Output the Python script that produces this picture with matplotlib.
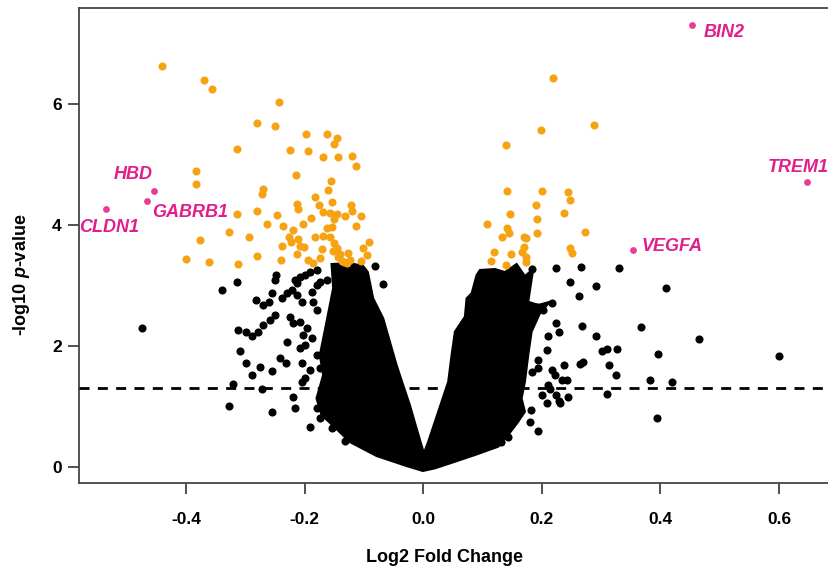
import matplotlib
matplotlib.use("Agg")
import matplotlib.pyplot as plt

plt.rcParams['font.family'] = ['Liberation Sans', 'DejaVu Sans']
plt.rcParams['font.weight'] = 'bold'
plt.rcParams['mathtext.fontset'] = 'custom'
plt.rcParams['mathtext.it'] = 'Liberation Sans:italic:bold'
plt.rcParams['mathtext.rm'] = 'Liberation Sans:bold'

# significant genes (orange)
sig_x = [-0.4409, -0.3705, -0.3558, -0.2444, -0.2810, -0.2498, -0.3143, -0.1980, -0.1625, -0.1460,
         -0.1506, -0.2253, -0.1941, -0.1688, -0.1443, -0.1212, -0.1131, -0.3835, -0.3835, -0.2152,
         -0.1561, -0.1603, -0.2700, -0.2726, -0.1823, -0.2130, -0.2123, -0.1760, -0.1544, -0.1224,
         -0.1202, -0.3151, -0.2815, -0.2469, -0.1693, -0.1571, -0.1452, -0.1322, -0.1902, -0.1511,
         -0.1046, -0.3274, -0.2937, -0.3777, -0.2630, -0.2360, -0.2039, -0.2203, -0.1139, -0.1620,
         -0.1539, -0.1578, -0.2265, -0.2236, -0.2113, -0.2076, -0.2388, -0.1823, -0.1688, -0.2017,
         -0.2140, -0.1718, -0.1506, -0.1465, -0.1519, -0.1409, -0.1438, -0.1381, -0.1278, -0.0920,
         -0.1016, -0.0959, -0.1050, -0.2815, -0.3131, -0.4003, -0.3617, -0.2405, -0.1954, -0.1870,
         -0.1743, -0.1342, -0.1296, -0.1241,
         0.2191, 0.2874, 0.1980, 0.1387, 0.1409, 0.2003, 0.2435, 0.2478, 0.1904, 0.1460,
         0.2371, 0.1075, 0.1912, 0.1409, 0.1448, 0.1333, 0.1921, 0.2726, 0.1693, 0.1730,
         0.1700, 0.1668, 0.1735, 0.1737, 0.2476, 0.2515, 0.1195, 0.1473, 0.1144, 0.1396]
sig_y = [6.635, 6.404, 6.250, 6.040, 5.687, 5.643, 5.262, 5.510, 5.502, 5.443,
         5.348, 5.241, 5.224, 5.122, 5.130, 5.137, 4.979, 4.893, 4.683, 4.822,
         4.733, 4.579, 4.596, 4.521, 4.468, 4.343, 4.268, 4.328, 4.377, 4.334,
         4.232, 4.179, 4.237, 4.169, 4.218, 4.207, 4.179, 4.144, 4.119, 4.099,
         4.152, 3.893, 3.810, 3.752, 4.022, 3.992, 4.022, 3.917, 3.989, 3.946,
         3.972, 3.810, 3.802, 3.714, 3.764, 3.661, 3.648, 3.810, 3.813, 3.641,
         3.524, 3.611, 3.697, 3.620, 3.578, 3.520, 3.463, 3.405, 3.537, 3.714,
         3.615, 3.504, 3.413, 3.487, 3.355, 3.443, 3.396, 3.418, 3.421, 3.366,
         3.449, 3.393, 3.366, 3.421,
         6.427, 5.654, 5.572, 5.319, 4.571, 4.563, 4.546, 4.417, 4.331, 4.177,
         4.199, 4.017, 4.108, 3.950, 3.864, 3.797, 3.873, 3.881, 3.807, 3.788,
         3.633, 3.553, 3.476, 3.393, 3.615, 3.545, 3.548, 3.527, 3.413, 3.347]

# highlighted genes
gene_names = ['CLDN1', 'HBD', 'GABRB1', 'VEGFA', 'BIN2', 'TREM1']
gene_x = [-0.5347, -0.4544, -0.4655, 0.3531, 0.4537, 0.6473]
gene_y = [4.265, 4.563, 4.397, 3.582, 7.304, 4.716]

# non-significant genes: scattered ones that stand apart from the dense core
ns_x = [-0.4739, -0.3401, -0.3148, -0.2827, -0.3126, -0.2996, -0.2889, -0.3097, -0.2987, -0.2898,
        -0.2759, -0.2549, -0.2422, -0.2321, -0.3219, -0.2717, -0.3279, -0.2562, -0.2206, -0.2169,
        -0.1916, -0.1549, -0.1325, -0.2704, -0.2608, -0.2562, -0.2506, -0.2478, -0.2393, -0.2309,
        -0.2224, -0.2140, -0.2084, -0.2000, -0.1916, -0.1803, -0.2169, -0.1803, -0.1747, -0.1634,
        -0.2140, -0.2056, -0.1887, -0.1860, -0.1803, -0.2253, -0.2197, -0.2506, -0.2591, -0.2704,
        -0.2788, -0.2084, -0.2029, -0.1971, -0.1887, -0.2084, -0.2000, -0.2309, -0.2056, -0.1803,
        -0.1747, -0.1916, -0.2056, -0.2000, -0.1803, -0.1747, -0.1634, -0.1691, -0.0819, -0.0678,
        0.2233, 0.2653, 0.3308, 0.1831, 0.2476, 0.2908, 0.4090, 0.2628, 0.2675, 0.2920,
        0.3008, 0.3092, 0.3261, 0.3136, 0.3244, 0.3092, 0.3666, 0.3963, 0.3831, 0.4199,
        0.3941, 0.4645, 0.5995, 0.2650, 0.2697, 0.2371, 0.2417, 0.2444, 0.2304, 0.2231,
        0.2282, 0.2101, 0.2093, 0.1938, 0.1932, 0.2164, 0.2022, 0.1911, 0.1809, 0.1938,
        0.2079, 0.2143, 0.2236, 0.1797, 0.1431, 0.1308, 0.2164, 0.2219, 0.2332, 0.1826,
        0.2106, 0.1995, 0.2292]
ns_y = [2.291, 2.933, 3.057, 2.759, 2.268, 2.235, 2.172, 1.919, 1.712, 1.515,
        1.659, 1.585, 1.795, 1.712, 1.378, 1.295, 1.006, 0.911, 1.160, 0.978,
        0.663, 0.634, 0.430, 2.677, 2.726, 2.870, 3.090, 3.173, 2.787, 2.870,
        2.925, 3.036, 3.145, 3.173, 3.227, 3.256, 3.098, 3.007, 3.062, 3.090,
        2.842, 2.731, 2.897, 2.731, 2.594, 2.483, 2.374, 2.511, 2.428, 2.346,
        2.235, 2.400, 2.180, 2.291, 2.126, 1.960, 2.015, 2.060, 1.712, 1.849,
        1.629, 1.601, 1.408, 1.464, 0.968, 0.802, 1.381, 1.242, 3.322, 3.019,
        3.292, 3.313, 3.294, 3.272, 3.065, 2.999, 2.961, 2.831, 2.324, 2.161,
        1.924, 1.954, 1.945, 1.681, 1.519, 1.209, 2.308, 1.871, 1.444, 1.398,
        0.802, 2.114, 1.828, 1.709, 1.742, 1.684, 1.436, 1.160, 1.064, 2.374,
        2.230, 2.172, 1.932, 1.767, 1.643, 2.715, 2.594, 2.648, 0.940, 0.600,
        1.050, 1.295, 1.188, 0.746, 0.498, 0.410, 1.601, 1.519, 1.436, 1.573,
        1.353, 1.188, 1.088]

# outline of the dense cloud of non-significant genes (too many dots to read one by one)
core_x = [-0.1549, -0.1241, -0.1016, -0.0937, -0.0847, -0.0678, -0.0565, -0.0452, -0.0341, -0.0228,
          -0.0115, 0.0008, 0.0081, 0.0250, 0.0419, 0.0476, 0.0532, 0.0587, 0.0700, 0.0729,
          0.0814, 0.0898, 0.0954, 0.1207, 0.1376, 0.1573, 0.1713, 0.1853, 0.1769, 0.1938,
          0.2135, 0.1966, 0.1826, 0.1769, 0.1713, 0.1657, 0.1713, 0.1600, 0.1431, 0.1262,
          0.0869, 0.0532, 0.0194, -0.0008, -0.0284, -0.0790, -0.1241, -0.1465, -0.1718, -0.1803,
          -0.1691, -0.1747, -0.1634, -0.1522]
core_y = [3.355, 3.371, 3.322, 3.222, 2.787, 2.457, 2.070, 1.684, 1.353, 1.022,
          0.637, 0.228, 0.415, 0.911, 1.408, 1.849, 2.235, 2.318, 2.483, 2.787,
          2.870, 3.173, 3.256, 3.272, 3.222, 3.355, 3.156, 3.272, 2.731, 2.677,
          2.731, 2.539, 2.235, 1.849, 1.408, 1.133, 0.911, 0.746, 0.526, 0.333,
          0.195, 0.084, -0.025, -0.069, 0.013, 0.179, 0.410, 0.625, 0.857, 1.133,
          1.519, 1.849, 2.400, 2.958]

p_cutoff = 0.05
threshold = 1.30103  # -log10(0.05)

x_ticks = [-0.4, -0.2, 0.0, 0.2, 0.4, 0.6]
x_tick_labels = ['-0.4', '-0.2', '0.0', '0.2', '0.4', '0.6']
y_ticks = [0, 2, 4, 6]

fig = plt.figure(figsize=(8.29, 5.70), dpi=100)
ax = fig.add_axes([0.0953, 0.1526, 0.9159, 0.8333])

ax.fill(core_x, core_y, color='black', lw=1.5, zorder=1)
ax.scatter(ns_x, ns_y, s=34, c='black', lw=0, zorder=2)
ax.scatter(sig_x, sig_y, s=34, c='#F6A313', lw=0, zorder=3)
ax.scatter(gene_x, gene_y, s=24, c='#E63C9A', lw=0, zorder=4)

ax.axhline(threshold, color='black', lw=2, dashes=(3.6, 3), zorder=5)

# label placement (offsets in points)
label_offsets = [(2, -13), (-1, 12), (3.6, -8.6), (6, 3), (8, -5.5), (-28, 10.5)]
label_ha = ['center', 'right', 'left', 'left', 'left', 'left']
for name, gx, gy, off, ha in zip(gene_names, gene_x, gene_y, label_offsets, label_ha):
    ax.annotate(name, (gx, gy), xytext=off, textcoords='offset points',
                ha=ha, va='center', color='#E01E8C', fontsize=13,
                fontweight='bold', fontstyle='italic', zorder=6)

ax.set_xlim(-0.581, 0.70)
ax.set_ylim(-0.268, 7.59)
ax.set_xticks(x_ticks)
ax.set_xticklabels(x_tick_labels)
ax.set_yticks(y_ticks)
ax.tick_params(direction='out', length=8, width=1.2, color='#333333', labelsize=12.5)
ax.tick_params(axis='x', pad=13)
ax.tick_params(axis='y', pad=4.5)
for sp in ax.spines.values():
    sp.set_color('#444444')
    sp.set_linewidth(1.3)

fig.text(444.5 / 829, 1 - 558 / 570, 'Log2 Fold Change', ha='center', va='center', fontsize=13)
fig.text(22 / 829, 1 - 275 / 570, '-log10 $p$-value', ha='center', va='center',
         rotation=90, fontsize=13)

fig.savefig('out.png', dpi=100)
